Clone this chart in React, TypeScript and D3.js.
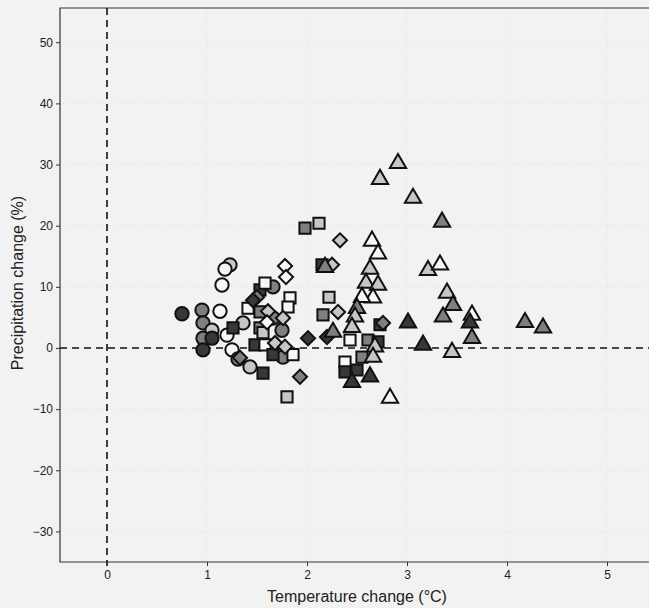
import React, { useEffect, useRef } from "react";
import * as d3 from "d3";

// [temperature change (°C), precipitation change (%), shade]
const circles = [
  [0.75, 5.6, "dark"], [0.95, 6.2, "gray"], [1.13, 6.0, "white"], [1.23, 13.6, "light"],
  [1.18, 12.9, "white"], [1.15, 10.3, "white"], [1.66, 10.0, "gray"], [1.66, 4.9, "gray"],
  [0.96, 4.1, "gray"], [1.05, 2.9, "light"], [1.36, 4.1, "light"], [1.2, 2.1, "white"],
  [1.75, 2.9, "gray"], [0.96, 1.6, "gray"], [1.05, 1.6, "dark"], [0.96, -0.3, "dark"],
  [1.25, -0.3, "white"], [1.76, -1.5, "gray"], [1.43, -3.1, "light"], [1.31, -1.8, "gray"],
];

const squares = [
  [1.53, 9.5, "dark"], [1.58, 10.6, "white"], [1.83, 8.2, "white"], [1.81, 6.7, "white"],
  [1.41, 6.5, "white"], [1.53, 5.9, "gray"], [1.26, 3.3, "dark"], [1.53, 3.3, "gray"],
  [1.56, 2.5, "light"], [1.48, 0.5, "dark"], [1.58, 0.5, "white"], [1.86, -1.1, "white"],
  [1.66, -1.1, "dark"], [1.56, -4.1, "dark"], [1.8, -8.0, "light"], [1.98, 19.6, "gray"],
  [2.12, 20.4, "light"], [2.15, 13.6, "dark"], [2.22, 8.3, "light"], [2.16, 5.4, "gray"],
  [2.73, 3.8, "dark"], [2.43, 1.3, "white"], [2.61, 1.3, "gray"], [2.71, 1.0, "dark"],
  [2.55, -1.5, "gray"], [2.38, -2.3, "white"], [2.38, -3.9, "dark"], [2.5, -3.6, "dark"],
];

const diamonds = [
  [1.78, 13.4, "white"], [1.79, 11.6, "white"], [1.5, 8.3, "gray"], [1.46, 7.8, "dark"],
  [1.61, 6.0, "light"], [1.76, 4.9, "light"], [1.6, 4.2, "white"], [1.68, 0.8, "light"],
  [1.78, 0.2, "light"], [1.33, -1.6, "gray"], [1.93, -4.7, "gray"], [2.01, 1.6, "dark"],
  [2.2, 1.8, "dark"], [2.33, 17.6, "light"], [2.25, 13.6, "light"], [2.31, 5.9, "light"],
  [2.76, 4.1, "gray"],
];

const triangles = [
  [2.91, 30.2, "light"], [2.73, 27.6, "light"], [3.06, 24.5, "light"], [3.35, 20.6, "gray"],
  [2.65, 17.5, "white"], [2.71, 15.4, "white"], [2.18, 13.2, "gray"], [2.63, 12.9, "light"],
  [3.21, 12.7, "light"], [3.33, 13.6, "white"], [2.59, 10.6, "light"], [2.71, 10.3, "light"],
  [2.66, 8.2, "white"], [2.55, 8.3, "white"], [3.4, 9.0, "light"], [3.46, 7.0, "gray"],
  [2.5, 6.5, "gray"], [2.48, 5.1, "light"], [3.36, 5.1, "gray"], [3.65, 5.4, "white"],
  [3.63, 4.1, "dark"], [3.01, 4.1, "dark"], [2.26, 2.6, "gray"], [2.45, 3.4, "light"],
  [2.68, 0.2, "light"], [3.16, 0.5, "dark"], [3.65, 1.6, "gray"], [3.45, -0.7, "light"],
  [2.66, -1.5, "light"], [2.63, -4.7, "dark"], [2.45, -5.6, "dark"], [2.83, -8.2, "white"],
  [4.18, 4.2, "gray"], [4.36, 3.3, "gray"],
];

const xTicks = [0, 1, 2, 3, 4, 5];
const yTicks = [-30, -20, -10, 0, 10, 20, 30, 40, 50];

const shades = { dark: "#383838", gray: "#7f7f7f", light: "#c6c6c6", white: "#f7f7f7" };

const Chart = () => {
  const ref = useRef(null);
  useEffect(() => {
    const WIDTH = 649;
    const HEIGHT = 608;
    const LEFT = 60, TOP = 8, BOTTOM = 562, RIGHT = 662;
    const x = d3.scaleLinear().domain([-0.47, 5.55]).range([LEFT, RIGHT]);
    const y = d3.scaleLinear().domain([-35, 55.6]).range([BOTTOM, TOP]);

    const root = d3.select(ref.current);
    root.selectAll("*").remove();
    const svg = root
      .append("svg")
      .attr("width", WIDTH)
      .attr("height", HEIGHT)
      .style("display", "block")
      .style("position", "absolute")
      .style("left", 0)
      .style("top", 0)
      .style("font-family", "'Liberation Sans', Arial, sans-serif");

    svg.append("rect").attr("width", WIDTH).attr("height", HEIGHT).attr("fill", "#f1f2f1");

    // faint grid
    svg
      .append("g")
      .selectAll("line")
      .data(yTicks)
      .join("line")
      .attr("x1", LEFT)
      .attr("x2", WIDTH)
      .attr("y1", (d) => y(d))
      .attr("y2", (d) => y(d))
      .attr("stroke", "#e2e4e3")
      .attr("stroke-dasharray", "1,2");
    svg
      .append("g")
      .selectAll("line")
      .data(xTicks.filter((d) => d !== 0))
      .join("line")
      .attr("x1", (d) => x(d))
      .attr("x2", (d) => x(d))
      .attr("y1", TOP)
      .attr("y2", BOTTOM)
      .attr("stroke", "#e2e4e3")
      .attr("stroke-dasharray", "1,2");

    // frame
    svg
      .append("path")
      .attr("d", `M${WIDTH},${TOP}H${LEFT}V${BOTTOM}H${WIDTH}`)
      .attr("fill", "none")
      .attr("stroke", "#333")
      .attr("stroke-width", 1.2);

    // zero lines
    svg
      .append("line")
      .attr("x1", x(0)).attr("x2", x(0))
      .attr("y1", TOP).attr("y2", BOTTOM + 4)
      .attr("stroke", "#111")
      .attr("stroke-width", 1.6)
      .attr("stroke-dasharray", "7,5");
    svg
      .append("line")
      .attr("x1", LEFT).attr("x2", WIDTH)
      .attr("y1", y(0)).attr("y2", y(0))
      .attr("stroke", "#111")
      .attr("stroke-width", 1.6)
      .attr("stroke-dasharray", "7,5");

    // axes
    const yAxis = svg
      .append("g")
      .attr("transform", `translate(${LEFT},0)`)
      .call(d3.axisLeft(y).tickValues(yTicks).tickFormat(d3.format("d")).tickSize(4).tickPadding(3));
    const xAxis = svg
      .append("g")
      .attr("transform", `translate(0,${BOTTOM})`)
      .call(d3.axisBottom(x).tickValues(xTicks).tickFormat(d3.format("d")).tickSize(4).tickPadding(4));
    [yAxis, xAxis].forEach((g) => {
      g.select(".domain").remove();
      g.selectAll("line").attr("stroke", "#333");
      g.selectAll("text")
        .attr("fill", "#222")
        .style("font-size", "12px")
        .style("font-family", "'Liberation Sans', Arial, sans-serif");
    });

    svg
      .append("text")
      .attr("x", 357)
      .attr("y", 602)
      .attr("text-anchor", "middle")
      .attr("fill", "#222")
      .style("font-size", "16px")
      .text("Temperature change (°C)");
    svg
      .append("text")
      .attr("transform", "translate(23,283) rotate(-90)")
      .attr("text-anchor", "middle")
      .attr("fill", "#222")
      .style("font-size", "16px")
      .text("Precipitation change (%)");

    const groups = [
      { data: circles, type: d3.symbolCircle, size: 140, rot: 0 },
      { data: squares, type: d3.symbolSquare, size: 125, rot: 0 },
      { data: diamonds, type: d3.symbolSquare, size: 100, rot: 45 },
      { data: triangles, type: d3.symbolTriangle, size: 115, rot: 0 },
    ];
    groups.forEach((grp) => {
      svg
        .append("g")
        .selectAll("path")
        .data(grp.data)
        .join("path")
        .attr("d", d3.symbol().type(grp.type).size(grp.size))
        .attr("transform", (d) => `translate(${x(d[0])},${y(d[1])}) rotate(${grp.rot})`)
        .attr("fill", (d) => shades[d[2]])
        .attr("stroke", "#111")
        .attr("stroke-width", 2);
    });
  }, []);

  return <div ref={ref} />;
};

export default function App() {
  return <Chart />;
}
